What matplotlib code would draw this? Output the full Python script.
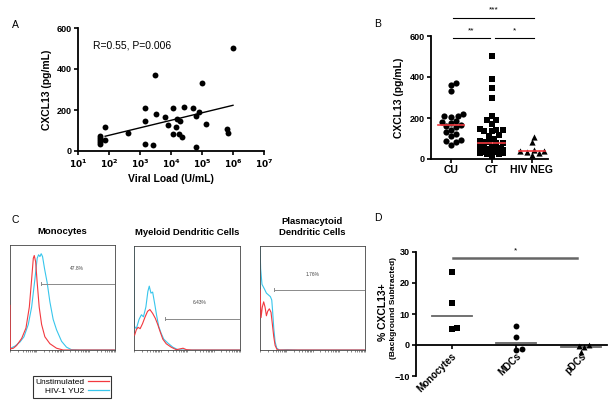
import numpy as np
import matplotlib
matplotlib.use("Agg")
import matplotlib.pyplot as plt
from matplotlib.lines import Line2D

plt.rcParams['font.family'] = ['Liberation Sans', 'DejaVu Sans']

# ---- panel A: CXCL13 vs viral load
viral_load = [50, 50, 50, 50, 50, 75, 75, 420, 1400, 1400, 1400, 2600, 3000, 3300,
              6500, 8000, 11500, 12000, 14000, 15500, 18000, 20000, 23000, 26000,
              51000, 62000, 62000, 80000, 100000, 132000, 650000, 700000, 1000000]
cxcl13_a = [75, 65, 55, 45, 35, 118, 55, 90, 208, 146, 33, 28, 371, 182,
            167, 127, 84, 208, 115, 156, 84, 146, 67, 216,
            208, 172, 18, 190, 330, 130, 106, 90, 500]
stat_text = "R=0.55, P=0.006"

# ---- panel B: CXCL13 by group
groups_b = ["CU", "CT", "HIV NEG"]
cu = [372, 361, 330, 218, 210, 208, 207, 185, 180, 175, 165, 160, 155, 140,
      130, 120, 110, 95, 88, 85, 68]
ct = [502, 389, 345, 299, 211, 192, 188, 172, 145, 143, 140, 138, 135, 118,
      112, 100, 90, 85, 82, 80, 78, 70, 65, 60, 55, 52, 50, 48, 45, 42, 40,
      38, 36, 35, 33, 30, 28, 25, 22, 15]
hiv_neg = [106, 81, 45, 40, 38, 35, 28, 20]
sig_b = [(0, 2, "***"), (0, 1, "**"), (1, 2, "*")]

# ---- panel C: flow histograms (x: fraction of channel range, y: fraction of max)
hist_titles = ["Monocytes", "Myeloid Dendritic Cells", "Plasmacytoid\nDendritic Cells"]
mono_red_x = [0, 0.003, 0.032, 0.063, 0.111, 0.152, 0.184, 0.206, 0.222, 0.231, 0.244,
              0.259, 0.278, 0.301, 0.332, 0.38, 0.443, 0.506, 1.0]
mono_red_y = [0.425, 0.01, 0.017, 0.043, 0.11, 0.209, 0.409, 0.674, 0.874, 0.9, 0.841,
              0.641, 0.409, 0.243, 0.126, 0.06, 0.017, 0, 0]
mono_cyan_x = [0, 0.006, 0.047, 0.095, 0.133, 0.174, 0.206, 0.237, 0.259, 0.272, 0.285,
               0.297, 0.31, 0.329, 0.354, 0.38, 0.411, 0.443, 0.491, 0.538, 0.585, 0.665, 1.0]
mono_cyan_y = [0, 0.017, 0.037, 0.076, 0.126, 0.243, 0.409, 0.674, 0.874, 0.907, 0.89,
               0.917, 0.89, 0.774, 0.641, 0.458, 0.292, 0.193, 0.083, 0.027, 0.003, 0, 0]
mdc_red_x = [0.006, 0.022, 0.038, 0.058, 0.08, 0.105, 0.128, 0.15, 0.176, 0.201, 0.224,
             0.246, 0.272, 0.304, 0.351, 0.399, 0.431, 0.463, 0.495, 0.543, 1.0]
mdc_red_y = [0.144, 0.195, 0.218, 0.205, 0.252, 0.319, 0.372, 0.389, 0.352, 0.305, 0.245,
             0.178, 0.104, 0.06, 0.027, 0.003, 0.01, 0.017, 0.003, 0, 0]
mdc_cyan_x = [0, 0.003, 0.022, 0.048, 0.07, 0.089, 0.112, 0.131, 0.144, 0.16, 0.176,
              0.195, 0.214, 0.233, 0.256, 0.281, 0.319, 0.367, 0.415, 0.463, 1.0]
mdc_cyan_y = [1.0, 0.228, 0.205, 0.295, 0.339, 0.319, 0.413, 0.564, 0.614, 0.547, 0.557,
              0.446, 0.329, 0.228, 0.161, 0.104, 0.067, 0.027, 0.003, 0, 0]
pdc_red_x = [0, 0.01, 0.022, 0.035, 0.048, 0.061, 0.073, 0.089, 0.105, 0.118, 0.131,
             0.144, 0.163, 0.185, 1.0]
pdc_red_y = [0.58, 0.312, 0.413, 0.463, 0.413, 0.329, 0.372, 0.396, 0.362, 0.245, 0.128,
             0.044, 0.003, 0, 0]
pdc_cyan_x = [0, 0.006, 0.019, 0.042, 0.061, 0.08, 0.099, 0.112, 0.121, 0.131, 0.144,
              0.16, 0.185, 0.265, 0.361, 1.0]
pdc_cyan_y = [1.0, 0.782, 0.631, 0.587, 0.547, 0.53, 0.513, 0.48, 0.362, 0.211, 0.077,
              0.017, 0, 0.003, 0, 0]
gate_start = [0.291, 0.288, 0.131]
gate_level = [0.631, 0.302, 0.58]
gate_pct = ["47.8%", "6.43%", "1.76%"]
gate_label_pos = [(0.64, 0.78), (0.623, 0.453), (0.505, 0.73)]
legend_labels = ["Unstimulated", "HIV-1 YU2"]

# ---- panel D: % CXCL13+ by cell type
cells_d = ["Monocytes", "MDCs", "pDCs"]
monocytes = [23.7, 13.6, 5.1, 5.4]
mdcs = [6.2, 2.7, -1.6, -1.4]
pdcs = [-0.1, -0.4, -0.6, -2.1]

RED = "#f2393f"
CYAN = "#38c6ec"
FIG_W, FIG_H = 614, 413


def px_axes(fig, x0, y0, x1, y1):
    """Axes from pixel box (top-left origin)."""
    return fig.add_axes([x0 / FIG_W, 1 - y1 / FIG_H, (x1 - x0) / FIG_W, (y1 - y0) / FIG_H])


def swarm(vals, unit_px, diam, step, maxoff):
    """Deterministic beeswarm (px offsets); overlaps allowed once the band is full."""
    vals = np.asarray(vals, float)
    offs = np.zeros(len(vals))
    placed = []
    cands = [0.0]
    k = 1
    while k * step <= maxoff:
        cands += [k * step, -k * step]
        k += 1
    for i in np.argsort(vals):
        y = vals[i] * unit_px
        best, best_d = 0.0, -1
        for c in cands:
            dmin = min([np.hypot(c - px, y - py) for px, py in placed] or [1e9])
            if dmin >= diam:
                best = c
                break
            if dmin > best_d:
                best, best_d = c, dmin
        placed.append((best, y))
        offs[i] = best
    return offs


def prism(ax):
    for s in ("top", "right"):
        ax.spines[s].set_visible(False)
    for s in ("left", "bottom"):
        ax.spines[s].set_linewidth(1.3)
    ax.tick_params(width=1.2, length=3, labelsize=6.5, pad=1.5)
    for lab in ax.get_xticklabels() + ax.get_yticklabels():
        lab.set_fontweight("bold")


fig = plt.figure(figsize=(6.14, 4.13), dpi=100)

# ---------------- A
axA = px_axes(fig, 78, 28, 264, 151)
axA.scatter(viral_load, cxcl13_a, s=18, color="black", zorder=3, clip_on=False,
            linewidths=0)
lx = np.log10(viral_load)
b, a = np.polyfit(lx, cxcl13_a, 1)
xs = np.array([min(viral_load[5:]), max(viral_load)])
axA.plot(xs, a + b * np.log10(xs), color="black", lw=1)
axA.set_xscale("log")
axA.set_xlim(10, 1e7)
axA.set_ylim(0, 600)
axA.set_yticks([0, 200, 400, 600])
axA.set_xticks([10 ** k for k in range(1, 8)])
axA.set_xticklabels([r"$\mathbf{10^{%d}}$" % k for k in range(1, 8)])
prism(axA)
axA.tick_params(which="minor", length=1.8, width=0.8)
axA.text(0.08, 0.855, stat_text, transform=axA.transAxes, fontsize=7.5, va="center")
axA.set_xlabel("Viral Load (U/mL)", fontsize=7.5, fontweight="bold", labelpad=3)
axA.set_ylabel("CXCL13 (pg/mL)", fontsize=7.5, fontweight="bold", labelpad=3)

# ---------------- B
axB = px_axes(fig, 431, 36, 548, 159)
unit_b = 123 / 600
cat_px_b = 40.5
for i, (vals, mk) in enumerate(zip([cu, ct, hiv_neg], ["o", "s", "^"])):
    offs = swarm(vals, unit_b, 5.2, 2.4, 12) / cat_px_b
    axB.scatter(i + offs, vals, marker=mk, s=20, color="black", zorder=3, clip_on=False,
                linewidths=0)
    med = np.median(vals)
    axB.plot([i - 0.33, i + 0.33], [med, med], color=RED, lw=1.2, zorder=4)
for g0, g1, star in sig_b:
    yy = 690 if star == "***" else 592
    x0 = g0 + (0.05 if g0 == 0 else 0.08)
    x1 = g1 + (-0.05 if g1 == 1 else 0.05)
    axB.plot([x0, x1], [yy, yy], color="black", lw=0.8, clip_on=False)
    axB.text((x0 + x1) / 2, yy + 18, star, ha="center", va="bottom", fontsize=6)
axB.set_xlim(-0.5, 2.4)
axB.set_ylim(0, 600)
axB.set_yticks([0, 200, 400, 600])
axB.set_xticks(range(3))
axB.set_xticklabels(groups_b)
prism(axB)
axB.tick_params(axis="x", labelsize=7.5)
axB.set_ylabel("CXCL13 (pg/mL)", fontsize=7.5, fontweight="bold", labelpad=4)

# ---------------- C
boxes = [(10, 245, 115, 350), (134, 246, 240, 350), (260, 246, 365, 350)]
curves = [(mono_red_x, mono_red_y, mono_cyan_x, mono_cyan_y),
          (mdc_red_x, mdc_red_y, mdc_cyan_x, mdc_cyan_y),
          (pdc_red_x, pdc_red_y, pdc_cyan_x, pdc_cyan_y)]
minor = np.concatenate([d + np.log10(np.arange(1, 10)) for d in range(4)]) / 4
for k, box in enumerate(boxes):
    ax = px_axes(fig, *box)
    rx, ry, cx, cy = curves[k]
    ax.plot(rx, ry, color=RED, lw=0.8, zorder=3)
    ax.plot(cx, cy, color=CYAN, lw=0.8, zorder=2)
    g = gate_level[k]
    ax.plot([gate_start[k], 1.0], [g, g], color="#8a8a8a", lw=0.7)
    ax.plot([gate_start[k]] * 2, [g - 0.015, g + 0.015], color="#8a8a8a", lw=0.7)
    ax.text(*gate_label_pos[k], gate_pct[k], fontsize=3.5, ha="center", va="center",
            color="#444444")
    ax.set_xlim(0, 1)
    ax.set_ylim(0, 1.0)
    ax.set_yticks([])
    ax.set_xticks(np.append(minor, 1.0))
    ax.tick_params(axis="x", length=1.5, width=0.5, labelbottom=False, colors="#555555")
    for s in ax.spines.values():
        s.set_linewidth(0.6)
        s.set_color("#444444")
    ax.set_title(hist_titles[k], fontsize=6.8, fontweight="bold", pad=8)

handles = [Line2D([], [], color=RED, lw=0.9), Line2D([], [], color=CYAN, lw=0.9)]
leg = fig.legend(handles, legend_labels, loc="upper left",
                 bbox_to_anchor=(33 / FIG_W, 1 - 376 / FIG_H), markerfirst=False,
                 fontsize=6, frameon=True, fancybox=False, handlelength=2.6,
                 borderpad=0.25, labelspacing=0.2, handletextpad=0.4, borderaxespad=0)
leg.get_frame().set_edgecolor("black")
leg.get_frame().set_linewidth(0.8)

# ---------------- D
axD = px_axes(fig, 416, 252, 607, 376)
unit_d = 124 / 40
cat_px_d = 65
for i, (vals, mk) in enumerate(zip([monocytes, mdcs, pdcs], ["s", "o", "^"])):
    offs = swarm(vals, unit_d, 5, 2.6, 12) / cat_px_d
    axD.scatter(i + offs, vals, marker=mk, s=18, color="black", zorder=3, clip_on=False,
                linewidths=0)
    med = np.median(vals)
    axD.plot([i - 0.31, i + 0.31], [med, med], color="#666666", lw=1.3, zorder=2)
axD.plot([0.02, 1.94], [28, 28], color="#666666", lw=1.8, clip_on=False)
axD.text(0.98, 29.2, "*", ha="center", va="bottom", fontsize=6)
axD.spines["bottom"].set_position(("data", 0))
axD.set_xlim(-0.55, 2.4)
axD.set_ylim(-10, 30)
axD.set_yticks([-10, 0, 10, 20, 30])
axD.set_xticks(range(3))
prism(axD)
axD.set_xticklabels(cells_d, fontsize=7, fontweight="bold", rotation=45, ha="right",
                    rotation_mode="anchor")
fig.text(383 / FIG_W, 1 - 312 / FIG_H, "% CXCL13+", rotation=90, ha="center", va="center",
         fontsize=7.5, fontweight="bold")
fig.text(394 / FIG_W, 1 - 308 / FIG_H, "(Background Subtracted)", rotation=90, ha="center",
         va="center", fontsize=6, fontweight="bold")

# panel letters
for letter, (x, y) in zip("ABCD", [(15, 25), (378, 24), (15, 220), (378, 218)]):
    fig.text(x / FIG_W, 1 - y / FIG_H, letter, fontsize=7.5, ha="center", va="center")

fig.savefig("out.png", dpi=100)
